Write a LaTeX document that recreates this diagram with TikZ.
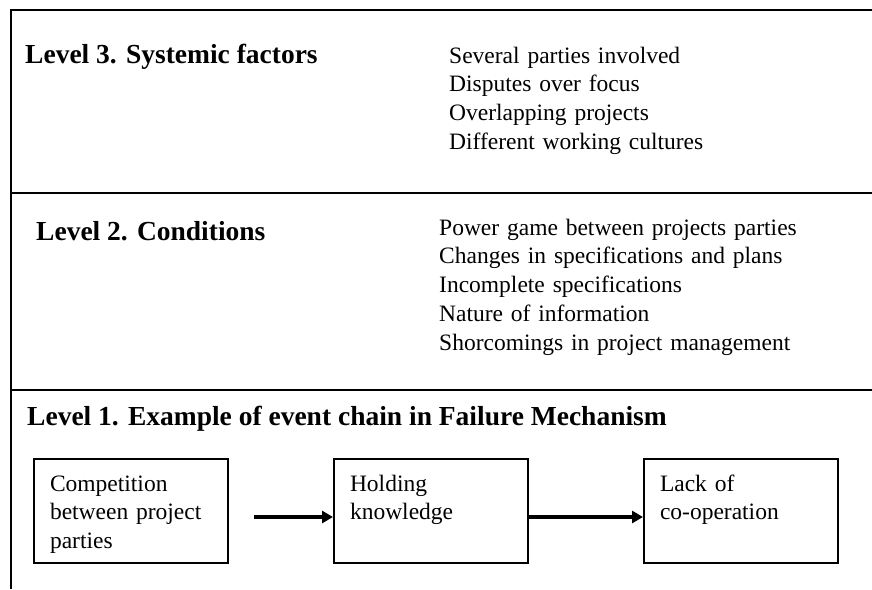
\documentclass[tikz,border=0pt]{standalone}
\usepackage{fontspec}
\setmainfont{Liberation Serif}
\usetikzlibrary{arrows.meta}
\begin{document}
\begin{tikzpicture}[x=1pt,y=-1pt,
  frame/.style={line width=2.2pt},
  title/.style={anchor=base west, inner sep=0pt, font=\fontsize{27.5}{32}\selectfont\bfseries},
  list/.style={anchor=base west, inner sep=0pt, align=left, text width=420pt,
    font=\fontsize{23.5}{28.8}\selectfont},
  evbox/.style={draw, line width=2pt, anchor=north west, align=left, text width=162pt,
    inner xsep=16pt, inner ysep=0pt, text height=32pt, text depth=72pt,
    font=\fontsize{23.5}{28.8}\selectfont},
  flow/.style={line width=3.5pt, -{Triangle[length=11pt,width=12pt]}}]
\useasboundingbox (0,0) rectangle (872,589);
% frame
\coordinate (tl) at (11,10);
\coordinate (tr) at (872,10);
\coordinate (bl) at (11,589);
\coordinate (s1l) at (11,193);
\coordinate (s1r) at (872,193);
\coordinate (s2l) at (11,390);
\coordinate (s2r) at (872,390);
\draw[frame] (tr) -- (tl) -- (bl);
\draw[frame] (s1l) -- (s1r);
\draw[frame] (s2l) -- (s2r);
% level 3
\node[title] (t3) at (25,63) {Level 3. Systemic factors};
\node[list] (l3) at (449,63) {Several parties involved\\Disputes over focus\\Overlapping projects\\Different working cultures};
% level 2
\node[title] (t2) at (36,240) {Level 2. Conditions};
\node[list] (l2) at (439,235) {Power game between projects parties\\Changes in specifications and plans\\Incomplete specifications\\Nature of information\\Shorcomings in project management};
% level 1
\node[title] (t1) at (27,425) {Level 1. Example of event chain in Failure Mechanism};
\node[evbox] (b1) at (33,458) {Competition\\between project\\parties};
\node[evbox] (b2) at (333,458) {Holding\\knowledge};
\node[evbox] (b3) at (643,458) {Lack of\\co-operation};
\draw[flow] ([shift={(25pt,-6pt)}]b1.east) -- ([yshift=-6pt]b2.west);
\draw[flow] ([yshift=-6pt]b2.east) -- ([yshift=-6pt]b3.west);
\end{tikzpicture}
\end{document}
